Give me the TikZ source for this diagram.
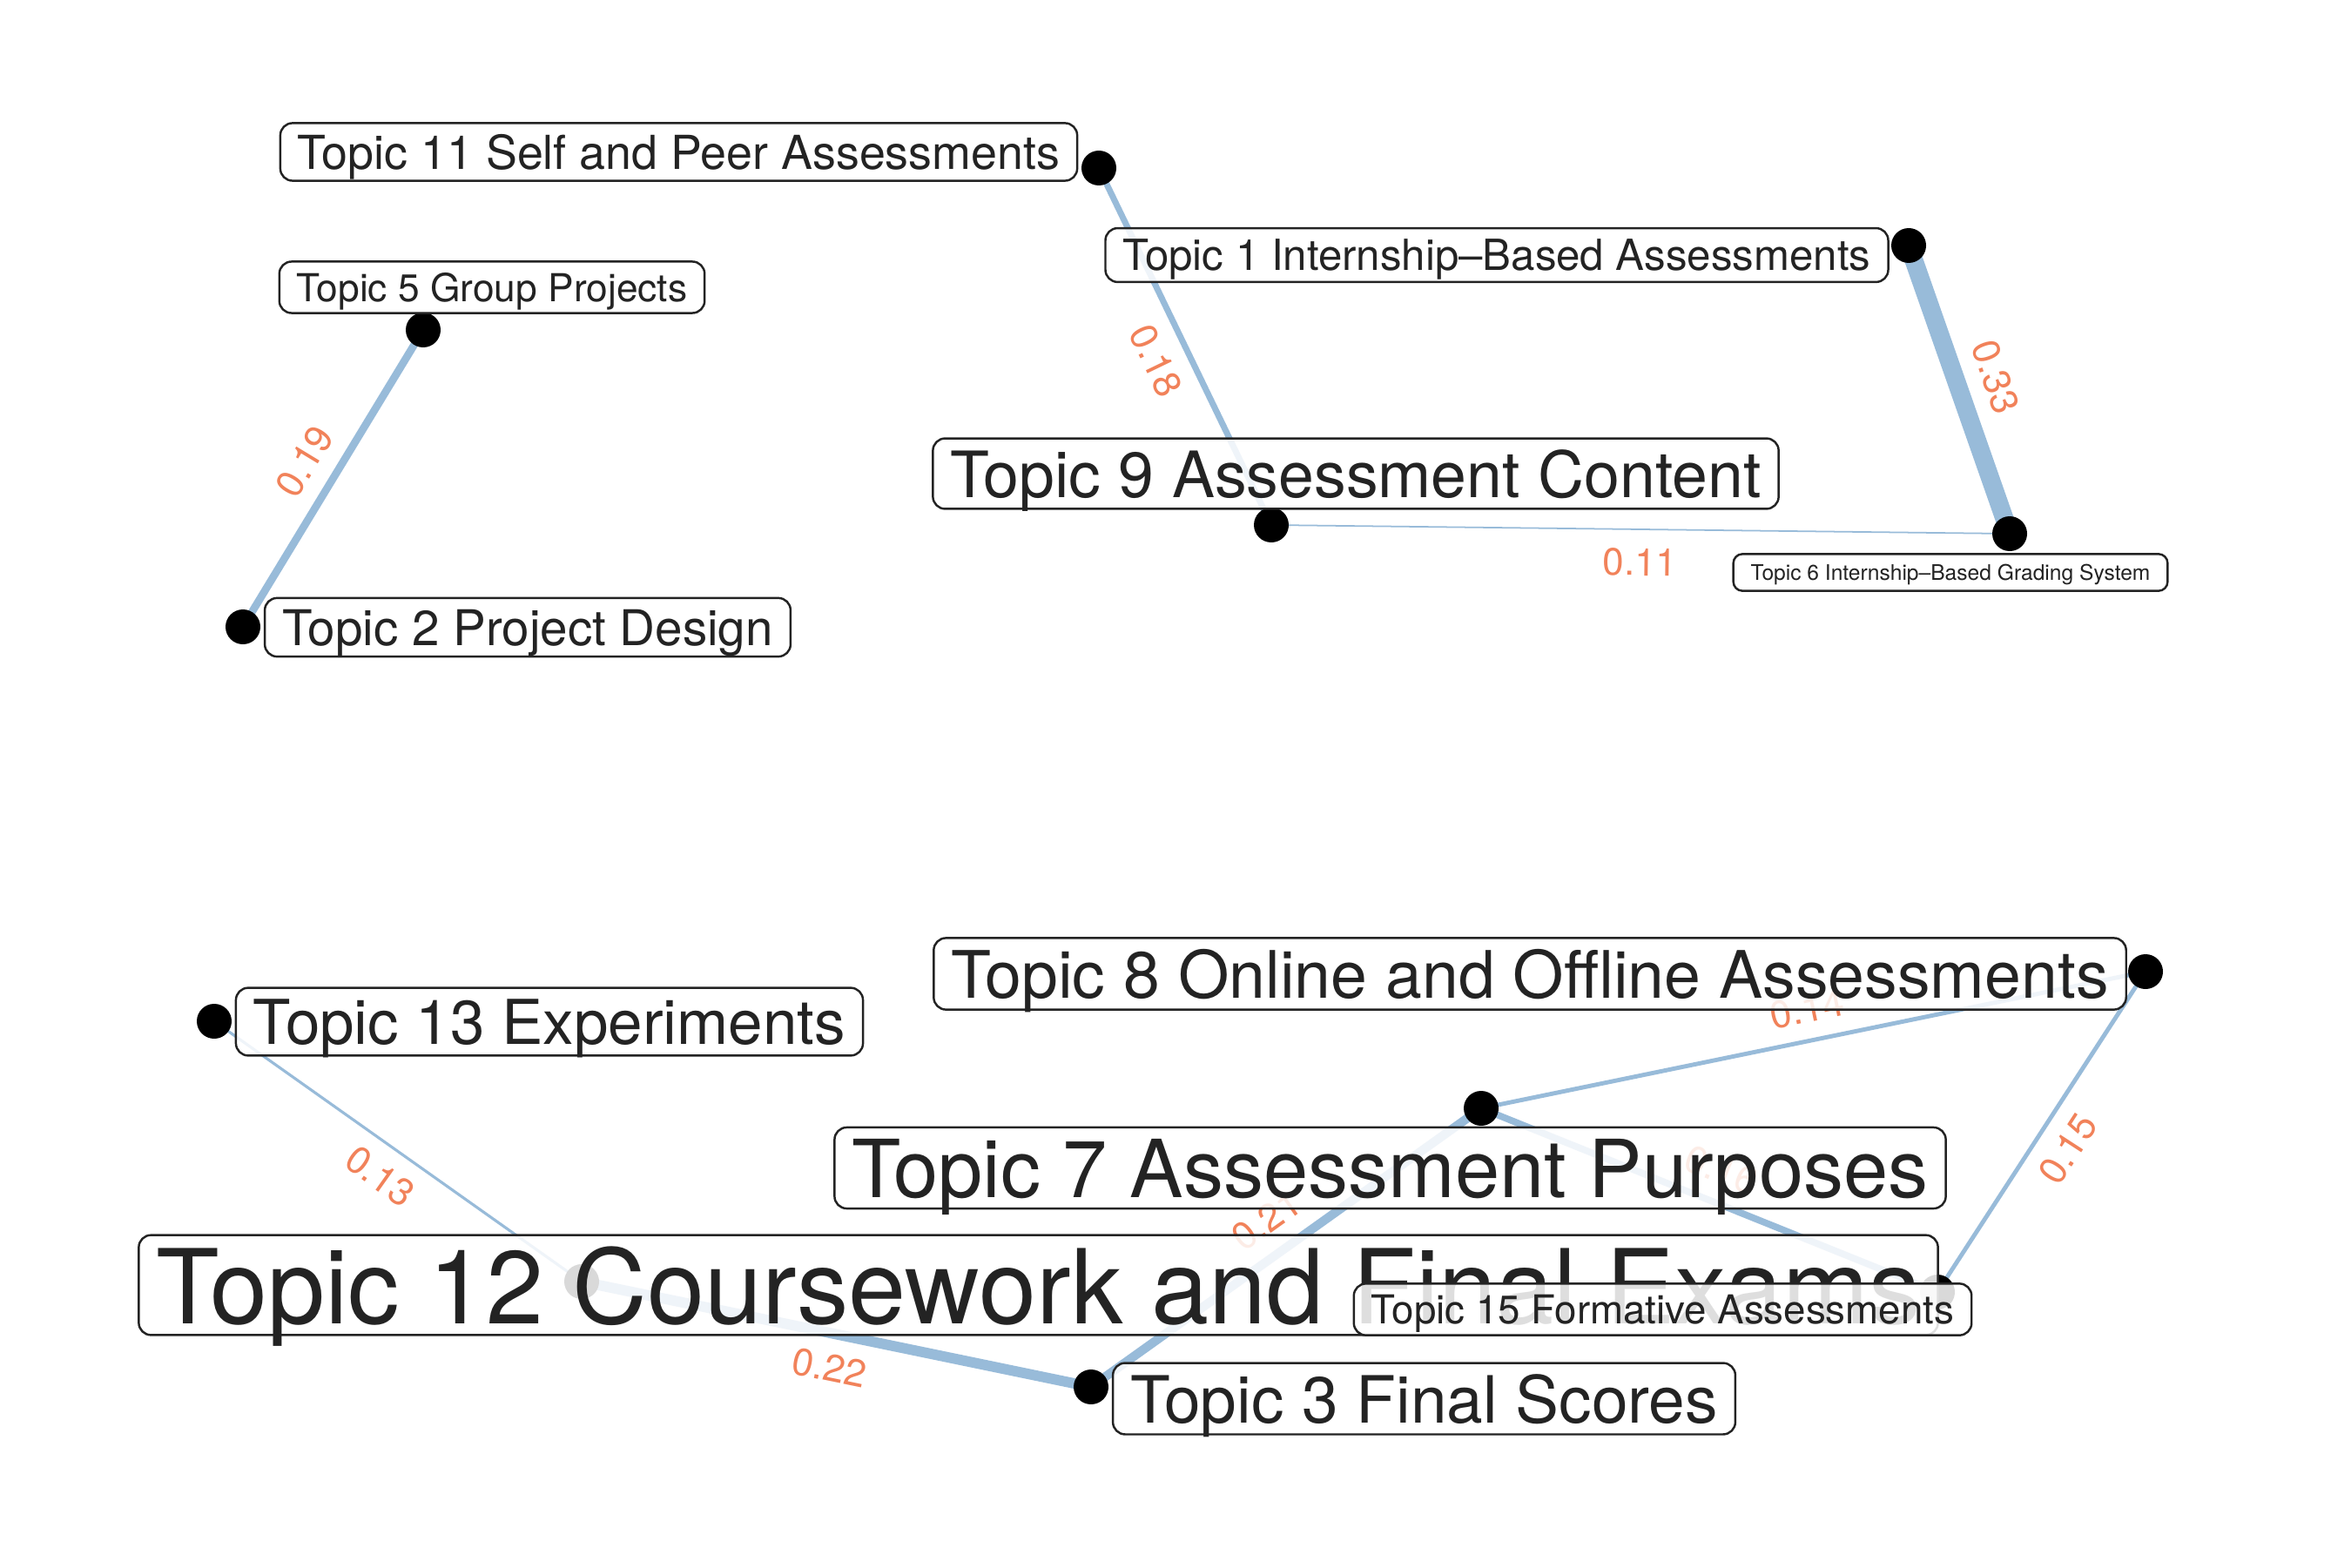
\documentclass[tikz,border=0pt]{standalone}
\usepackage{fontspec}
\setmainfont{TeX Gyre Heros}
\usepackage{tikz}
\usetikzlibrary{backgrounds}
\definecolor{edgeblue}{RGB}{152,187,217}
\definecolor{weightcol}{RGB}{241,130,90}
\definecolor{labtext}{RGB}{35,35,35}
\tikzstyle{dot} = [circle, fill=black, minimum size=0.4cm, inner sep=0pt]
\tikzstyle{topic} = [rectangle, draw=labtext, line width=0.7pt, rounded corners=4pt,
                     fill=white, fill opacity=0.85, text opacity=1, text=labtext,
                     text depth=0pt, inner xsep=0.2cm, inner ysep=0.13cm]
\tikzstyle{edge} = [draw=edgeblue, line cap=butt]
\tikzstyle{weight} = [text=weightcol, sloped, inner sep=0pt,
                      font=\fontsize{12.5}{13}\selectfont]

\begin{document}
\begin{tikzpicture}
\useasboundingbox (0,0) rectangle (27,18);

% topic points
\node [dot] (t11) at (12.62,16.07) {};
\node [dot] (t1)  at (21.92,15.18) {};
\node [dot] (t5)  at (4.86,14.21) {};
\node [dot] (t9)  at (14.60,11.97) {};
\node [dot] (t6)  at (23.08,11.87) {};
\node [dot] (t2)  at (2.79,10.80) {};
\node [dot] (t8)  at (24.64,6.84) {};
\node [dot] (t13) at (2.46,6.27) {};
\node [dot] (t7)  at (17.01,5.27) {};
\node [dot] (t12) at (6.68,3.28) {};
\node [dot] (t15) at (22.25,3.16) {};
\node [dot] (t3)  at (12.53,2.07) {};

% correlations
\begin{scope}[on background layer]
\path [edge, line width=2pt]   (t11.center) -- node [weight, below=5pt] {0.18} (t9.center);
\path [edge, line width=6pt]   (t1.center)  -- node [weight, above=5pt] {0.33} (t6.center);
\path [edge, line width=0.5pt] (t9.center)  -- node [weight, below=6pt] {0.11} (t6.center);
\path [edge, line width=2.5pt] (t2.center)  -- node [weight, above=5pt] {0.19} (t5.center);
\path [edge, line width=0.9pt] (t13.center) -- node [weight, below=5pt] {0.13} (t12.center);
\path [edge, line width=3.4pt] (t12.center) -- node [weight, below=5pt] {0.22} (t3.center);
\path [edge, line width=2.9pt] (t3.center)  -- node [weight, above=5pt] {0.21} (t7.center);
\path [edge, line width=1.4pt] (t7.center)  -- node [weight, above=5pt] {0.14} (t8.center);
\path [edge, line width=1.4pt] (t15.center) -- node [weight, below=5pt] {0.15} (t8.center);
\path [edge, line width=2.2pt] (t7.center)  -- node [weight, above=5pt] {0.16} (t15.center);
\end{scope}

% topic labels
\node [topic, font=\fontsize{15.3}{16}\selectfont] (lab11) at (7.795,16.255) {Topic 11 Self and Peer Assessments};
\node [topic, font=\fontsize{12.6}{13}\selectfont] (lab5) at (5.65,14.70) {Topic 5 Group Projects};
\node [topic, font=\fontsize{14.0}{15}\selectfont] (lab1) at (17.19,15.07) {Topic 1 Internship\textendash Based Assessments};
\node [topic, font=\fontsize{20.9}{22}\selectfont] (lab9) at (15.57,12.56) {Topic 9 Assessment Content};
\node [topic, font=\fontsize{7.0}{8}\selectfont, inner ysep=0.12cm, rounded corners=3pt] (lab6) at (22.40,11.425) {Topic 6 Internship\textendash Based Grading System};
\node [topic, font=\fontsize{16.1}{17}\selectfont] (lab2) at (6.06,10.795) {Topic 2 Project Design};
\node [topic, font=\fontsize{21.4}{22}\selectfont] (lab8) at (17.57,6.815) {Topic 8 Online and Offline Assessments};
\node [topic, font=\fontsize{20.2}{21}\selectfont] (lab13) at (6.31,6.265) {Topic 13 Experiments};
\node [topic, font=\fontsize{26.2}{27}\selectfont] (lab7) at (15.965,4.585) {Topic 7 Assessment Purposes};
\node [topic, font=\fontsize{33.8}{35}\selectfont] (lab12) at (11.925,3.24) {Topic 12 Coursework and Final Exams};
\node [topic, font=\fontsize{13.0}{14}\selectfont] (lab15) at (19.095,2.96) {Topic 15 Formative Assessments};
\node [topic, font=\fontsize{21.3}{22}\selectfont] (lab3) at (16.355,1.935) {Topic 3 Final Scores};

\end{tikzpicture}
\end{document}
